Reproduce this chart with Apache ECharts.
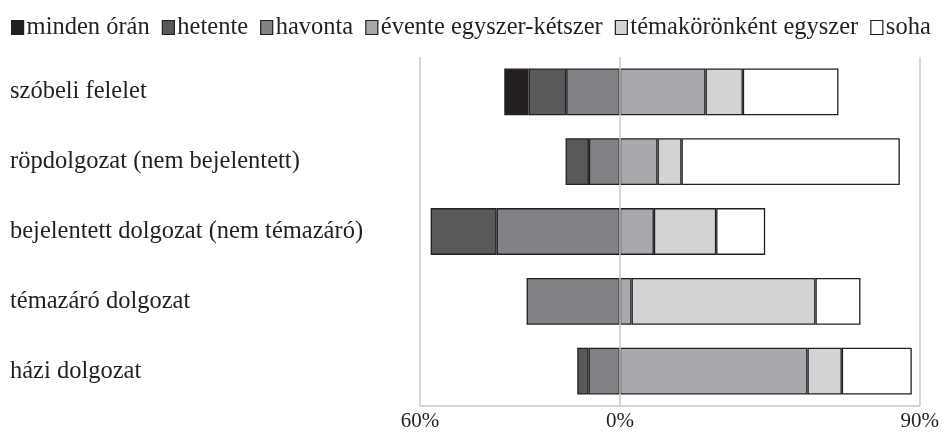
<!DOCTYPE html>
<html>
<head>
<meta charset="utf-8">
<script src="https://cdn.jsdelivr.net/npm/echarts@6/dist/echarts.min.js"></script>
<style>html,body{margin:0;padding:0;background:#fff}#c{width:942px;height:432px}</style>
</head>
<body>
<div id="c"></div>
<script>
var categories = ['szóbeli felelet','röpdolgozat (nem bejelentett)','bejelentett dolgozat (nem témazáró)','témazáró dolgozat','házi dolgozat'];
var seriesNames = ['minden órán','hetente','havonta','évente egyszer-kétszer','témakörönként egyszer','soha'];
var mindenOran = [7.3, 0, 0, 0, 0];
var hetente = [11.3, 7.0, 19.8, 0, 3.4];
var havonta = [16.1, 9.3, 37.0, 28.0, 9.4];
var evente = [25.7, 11.3, 10.2, 3.5, 56.3];
var temakor = [11.2, 7.2, 18.7, 55.2, 10.3];
var soha = [28.7, 65.5, 14.7, 13.5, 21.0];
var axisTicks = [-60, 0, 90];

var colors = ['#231f20','#58595b','#808285','#a7a9ac','#d1d3d4','#ffffff'];
var FONT = '"Liberation Serif", "DejaVu Serif", serif';
var TXT = '#231f20';

function prep(arr, sign){ return arr.map(function(v){ return v ? sign*v : '-'; }); }
function mk(name, data, sign, idx){
  return {
    name: name, type: 'bar', stack: 'all', barWidth: '67%',
    data: prep(data, sign),
    itemStyle: {color: colors[idx], borderColor: '#231f20', borderWidth: 1.3},
    emphasis: {disabled: true}
  };
}
var series = [
  mk(seriesNames[2], havonta, -1, 2),
  mk(seriesNames[1], hetente, -1, 1),
  mk(seriesNames[0], mindenOran, -1, 0),
  mk(seriesNames[3], evente, 1, 3),
  mk(seriesNames[4], temakor, 1, 4),
  mk(seriesNames[5], soha, 1, 5)
];
series[5].markLine = {
  silent: true, symbol: 'none', label: {show: false},
  lineStyle: {color: '#c8c8c8', width: 1.5, type: 'solid'},
  data: [{xAxis: 0}], z: 10
};

var chart = echarts.init(document.getElementById('c'));
chart.setOption({
  animation: false,
  backgroundColor: '#fff',
  legend: {
    data: seriesNames, left: 6, top: 10, icon: 'rect',
    itemWidth: 12, itemHeight: 14, itemGap: 12,
    itemStyle: {borderColor: '#231f20', borderWidth: 1.2},
    textStyle: {fontFamily: FONT, fontSize: 24.5, color: TXT, padding: [0,0,0,-2]}
  },
  grid: {left: 420, right: 21, top: 57, bottom: 26, containLabel: false},
  xAxis: {
    type: 'value', min: axisTicks[0], max: axisTicks[2], interval: 30,
    axisLine: {show: true, lineStyle: {color: '#c8c8c8', width: 1.5}},
    axisTick: {show: false},
    splitLine: {show: true, lineStyle: {width: 1.5, color: ['#c8c8c8','rgba(0,0,0,0)','rgba(0,0,0,0)','rgba(0,0,0,0)','rgba(0,0,0,0)','#c8c8c8']}},
    axisLabel: {
      fontFamily: FONT, fontSize: 21, color: TXT, margin: 5,
      formatter: function(v){ return axisTicks.indexOf(v) >= 0 ? Math.abs(v) + '%' : ''; }
    }
  },
  yAxis: {
    type: 'category', data: categories, inverse: true,
    axisLine: {show: false}, axisTick: {show: false},
    axisLabel: {fontFamily: FONT, fontSize: 24.5, color: TXT, align: 'left', margin: 410}
  },
  series: series
});
</script>
</body>
</html>
